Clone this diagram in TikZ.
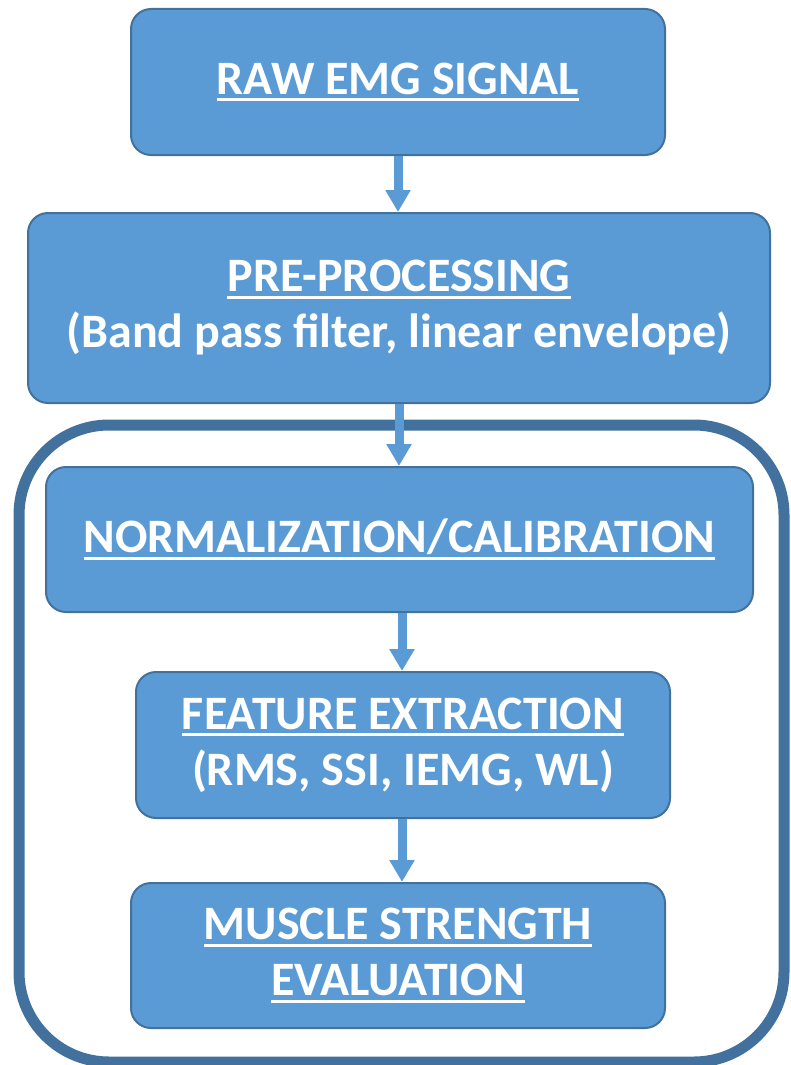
\documentclass[tikz,border=0pt]{standalone}
\usepackage{fontspec}
\setmainfont{Carlito}
\usetikzlibrary{arrows.meta}
\definecolor{boxblue}{HTML}{5B9BD5}
\definecolor{edgeblue}{HTML}{41719C}
\newcommand{\ulin}[1]{\setbox0\hbox{#1}\rlap{\rule[-7pt]{\wd0}{3pt}}\box0}

\begin{document}
\begin{tikzpicture}[x=1pt,y=-1pt]
    \useasboundingbox (0,0) rectangle (791,1065);
    \draw[edgeblue,line width=11pt,rounded corners=90pt] (19,425) rectangle (784,1062);

    \begin{scope}[every node/.style={rectangle,rounded corners=20pt,draw=edgeblue,line width=2pt,
            fill=boxblue,text=white,font=\fontsize{48}{56}\selectfont\bfseries,align=center,inner sep=0pt}]
        \node[minimum width=534pt,minimum height=146pt] (raw) at (398,82) {\ulin{RAW EMG SIGNAL}};
        \node[minimum width=742pt,minimum height=190pt] (pre) at (399,308) {\ulin{PRE-PROCESSING}\\(Band pass filter, linear envelope)};
        \node[minimum width=707pt,minimum height=145pt] (norm) at (399.5,539.5) {\ulin{NORMALIZATION/CALIBRATION}};
        \node[minimum width=534pt,minimum height=146pt] (feat) at (403,745) {\ulin{FEATURE EXTRACTION}\\(RMS, SSI, IEMG, WL)};
        \node[minimum width=534pt,minimum height=145pt] (str) at (398,955.5) {\ulin{MUSCLE STRENGTH}\\\ulin{EVALUATION}};
    \end{scope}

    \begin{scope}[>={Triangle[length=22pt,width=24pt]},
            every edge/.style={draw=boxblue,line width=9pt}]
        \path [->] (raw.south) edge (raw.south |- pre.north);
        \path [->] (pre.south) edge (pre.south |- norm.north);
        \path [->] ([xshift=-1pt]feat.north |- norm.south) edge ([xshift=-1pt]feat.north);
        \path [->] ([xshift=-1pt]feat.south) edge ([xshift=-1pt]feat.south |- str.north);
    \end{scope}
\end{tikzpicture}
\end{document}
